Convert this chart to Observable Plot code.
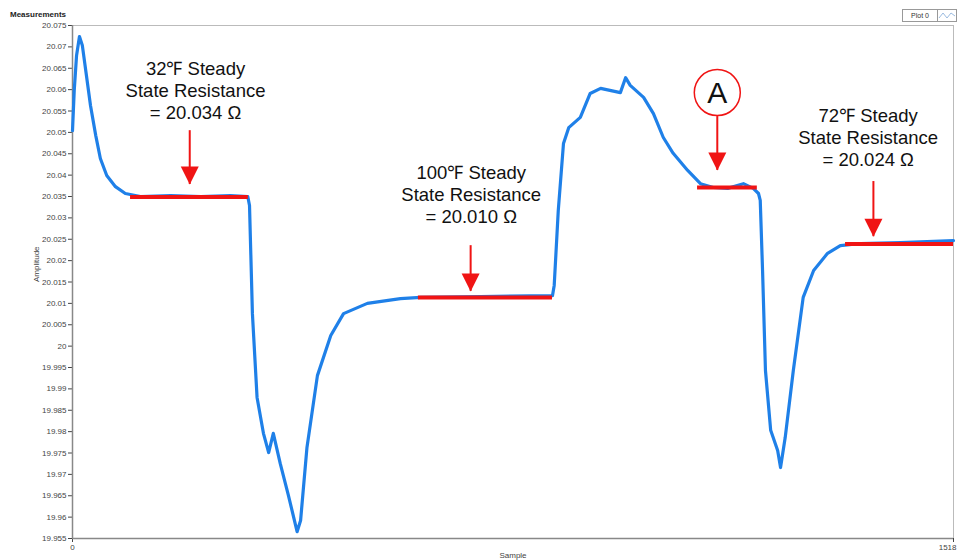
<!DOCTYPE html>
<html><head><meta charset="utf-8">
<script src="https://cdn.jsdelivr.net/npm/d3@7"></script>
<script src="https://cdn.jsdelivr.net/npm/@observablehq/plot@0.6"></script>
<style>
body{margin:0;background:#fff;}
#wrap{position:relative;width:957px;height:560px;font-family:"Liberation Sans",Arial,sans-serif;}
#title{position:absolute;left:10px;top:10px;font-size:8px;font-weight:bold;color:#222;}
#legend{position:absolute;left:902px;top:9px;height:11px;display:flex;border:1px solid #999;background:#fff;font-size:7px;color:#333;}
#legend .t{width:34px;text-align:center;line-height:11px;border-right:1px solid #999;}
#legend .i{width:18px;}
</style></head>
<body>
<div id="wrap">
<div id="title">Measurements</div>
<div id="legend"><div class="t">Plot 0</div><div class="i"><svg width="18" height="11"><path d="M1,8 L5,3 L9,8 L13,3 L17,6" fill="none" stroke="#9bbbe0" stroke-width="1"/></svg></div></div>
<div id="chart"></div>
</div>
<script>
// Measured trace (sample index, amplitude)
const samples = [0,3,7,12,17,24,31,40,48,59,74,91,117,169,221,272,302,305,310,318,329,338,346,358,372,387,393,404,422,445,467,508,565,600,703,827,830,837,846,855,875,892,910,944,953,961,984,1001,1018,1035,1060,1082,1104,1129,1156,1173,1182,1185,1189,1194,1203,1215,1220,1228,1242,1259,1277,1301,1323,1358,1427,1518];
const amplitude = [20.0504,20.0598,20.0680,20.0724,20.0703,20.0633,20.0563,20.0493,20.0439,20.0399,20.0373,20.0357,20.0350,20.0352,20.0350,20.0352,20.0350,20.0329,20.0076,19.9880,19.9796,19.9751,19.9796,19.9725,19.9651,19.9566,19.9592,19.9763,19.9931,20.0025,20.0076,20.0100,20.0111,20.0114,20.0116,20.0118,20.0142,20.0317,20.0474,20.0511,20.0535,20.0591,20.0603,20.0593,20.0628,20.0610,20.0582,20.0544,20.0488,20.0451,20.0411,20.0380,20.0371,20.0369,20.0380,20.0369,20.0357,20.0341,20.0177,19.9943,19.9803,19.9756,19.9716,19.9786,19.9943,20.0114,20.0177,20.0217,20.0235,20.0240,20.0242,20.0247];

// Steady-state segments
const steadyStart = [100, 596, 1077, 1332];
const steadyEnd = [303, 827, 1180, 1518];
const steadyValue = [20.0349, 20.0114, 20.0371, 20.0239];

// Annotation callouts
const calloutText = ["32℉ Steady\nState Resistance\n= 20.034 Ω", "100℉ Steady\nState Resistance\n= 20.010 Ω", "72℉ Steady\nState Resistance\n= 20.024 Ω"];
const calloutX = [212, 687, 1371];
const calloutY = [20.0600, 20.0357, 20.0490];

// Arrows
const arrowX = [202, 686, 1111, 1380];
const arrowTop = [20.0504, 20.0235, 20.0537, 20.0385];
const arrowTip = [20.0378, 20.0128, 20.0411, 20.0256];

// Marker "A"
const markerLabel = ["A"];
const markerX = [1111];
const markerY = [20.0593];

// Axis ticks and titles
const xTicks = [0, 1518];
const yTicks = [19.955,19.96,19.965,19.97,19.975,19.98,19.985,19.99,19.995,20,20.005,20.01,20.015,20.02,20.025,20.03,20.035,20.04,20.045,20.05,20.055,20.06,20.065,20.07,20.075];
const xTitle = "Sample";
const yTitle = "Amplitude";

const trace = samples.map((s, i) => ({s, v: amplitude[i]}));
const steady = steadyStart.map((a, i) => ({x1: a, x2: steadyEnd[i], y: steadyValue[i]}));
const callouts = calloutText.map((t, i) => ({t, x: calloutX[i], y: calloutY[i]}));
const arrows = arrowX.map((x, i) => ({x, y1: arrowTop[i], y2: arrowTip[i]}));
const markers = markerLabel.map((t, i) => ({t, x: markerX[i], y: markerY[i]}));

const RED = "#f01414";
const BLUE = "#1f80e8";
const arrowHead = {draw(ctx) { ctx.moveTo(0, 0); ctx.lineTo(-9, -18); ctx.lineTo(9, -18); ctx.closePath(); }};

const chart = Plot.plot({
  width: 957, height: 560,
  marginLeft: 72, marginRight: 4, marginTop: 25, marginBottom: 22,
  style: {fontFamily: '"Liberation Sans", Arial, sans-serif', fontSize: "8px", color: "#444", background: "#fff"},
  x: {domain: [0, 1518]},
  y: {domain: [19.955, 20.075]},
  marks: [
    Plot.frame({stroke: "#bbb"}),
    Plot.axisY({ticks: yTicks, tickSize: 4, tickPadding: 2, tickFormat: d => String(+d.toFixed(3)), label: null}),
    Plot.axisX({ticks: xTicks, tickSize: 4, tickFormat: () => "", label: null}),
    Plot.text([xTicks[0]], {x: d => d, frameAnchor: "bottom", dy: 11, text: d => String(d), fill: "#444"}),
    Plot.text([xTicks[1]], {x: d => d, frameAnchor: "bottom", dy: 11, dx: 3, textAnchor: "end", text: d => String(d), fill: "#444"}),
    Plot.text([xTitle], {frameAnchor: "bottom", dy: 19, text: d => d, fill: "#444"}),
    Plot.text([yTitle], {frameAnchor: "left", dx: -36, rotate: -90, text: d => d, fill: "#444"}),
    Plot.ruleX([0], {stroke: "#888", strokeWidth: 1.5}),
    Plot.ruleY([19.955], {stroke: "#888", strokeWidth: 1.5}),
    Plot.line(trace, {x: "s", y: "v", stroke: BLUE, strokeWidth: 3.2, strokeLinejoin: "round"}),
    Plot.ruleY(steady, {x1: "x1", x2: "x2", y: "y", stroke: RED, strokeWidth: 4}),
    Plot.ruleX(arrows, {x: "x", y1: "y1", y2: "y2", stroke: RED, strokeWidth: 2}),
    Plot.dot(arrows, {x: "x", y: "y2", symbol: arrowHead, fill: RED, stroke: "none"}),
    Plot.dot(markers, {x: "x", y: "y", r: 23, fill: "#fff", stroke: RED, strokeWidth: 1.5}),
    Plot.text(markers, {x: "x", y: "y", text: "t", fontSize: 30, fill: "#111", dy: 1}),
    Plot.text(callouts, {x: "x", y: "y", text: "t", fontSize: 18.5, lineHeight: 1.19, fill: "#111", lineAnchor: "middle"})
  ]
});
document.getElementById("chart").appendChild(chart);
</script>
</body></html>
